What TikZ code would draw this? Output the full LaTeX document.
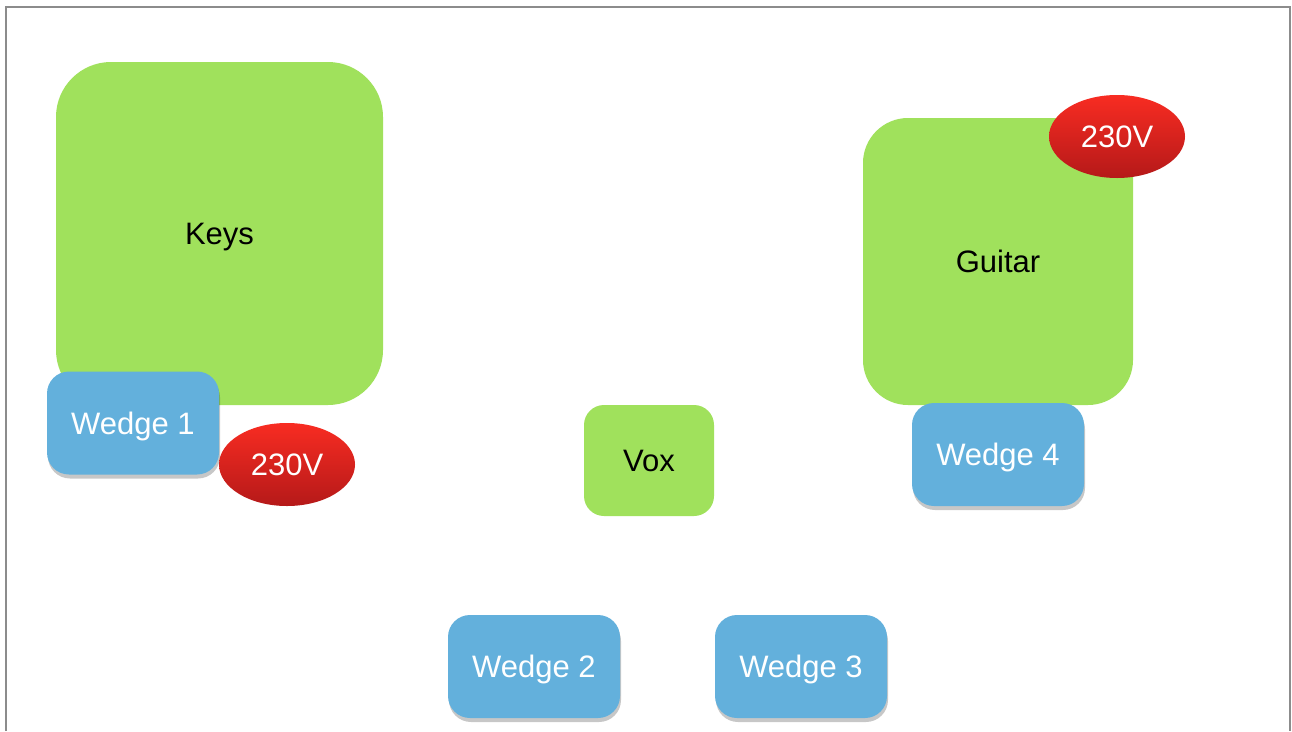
\documentclass[tikz,border=0pt]{standalone}
\usepackage{fontspec}
\setmainfont{Liberation Sans}
\usetikzlibrary{shapes.geometric,shadows}
\definecolor{padgreen}{HTML}{A0E15C}
\definecolor{wedgeblue}{HTML}{63B0DC}
\definecolor{redtop}{HTML}{F82C22}
\definecolor{redbot}{HTML}{B51919}
\definecolor{framegray}{HTML}{8C8C8C}
\tikzset{
  label font/.style={font=\fontsize{31}{37}\selectfont, text height=22pt, text depth=0pt},
  stage/.style={rectangle, fill=padgreen, inner sep=0pt, label font, text=black},
  wedge/.style={rectangle, fill=wedgeblue, rounded corners=22pt, inner sep=0pt,
    minimum width=172pt, minimum height=103pt, label font, text=white,
    drop shadow={shadow xshift=1pt, shadow yshift=-4pt, opacity=0.22, fill=black}},
  power/.style={ellipse, inner sep=0pt, minimum width=136pt, minimum height=83pt,
    top color=redtop, bottom color=redbot, label font, text=white}
}
\begin{document}
\begin{tikzpicture}[x=1pt,y=-1pt]
\useasboundingbox (0,0) rectangle (1292,731);
\fill[white] (0,0) rectangle (1292,731);
\draw[framegray, line width=2pt] (6,731) -- (6,7) -- (1290,7) -- (1290,731);
% stages
\node[stage, rounded corners=55pt, minimum width=327pt, minimum height=343pt] (keys) at (219.5,233.5) {Keys};
\node[stage, rounded corners=45pt, minimum width=270pt, minimum height=287pt] (guitar) at (998,261.5) {Guitar};
\node[stage, rounded corners=20pt, minimum width=130pt, minimum height=111pt] (vox) at (649,460.5) {Vox};
% wedges
\node[wedge] (w1) at (133,423) {Wedge 1};
\node[wedge] (w4) at (998,454.5) {Wedge 4};
\node[wedge] (w2) at (534,666.5) {Wedge 2};
\node[wedge] (w3) at (801,666.5) {Wedge 3};
% power
\node[power] (p1) at (287,464.5) {230V};
\node[power] (p2) at (1117,136.5) {230V};
\end{tikzpicture}
\end{document}
